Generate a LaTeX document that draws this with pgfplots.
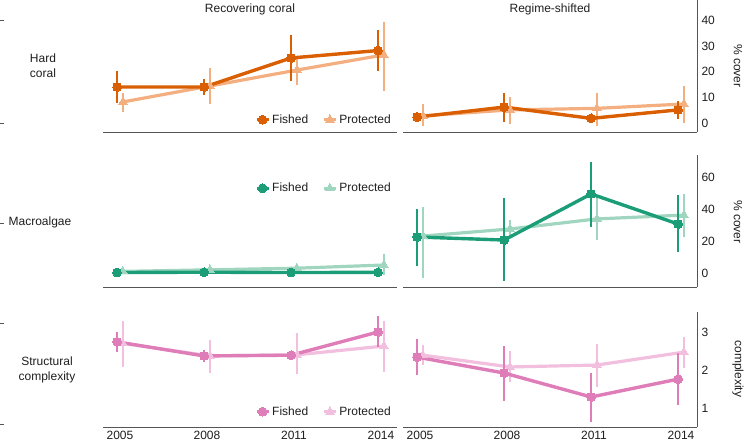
\documentclass[border=0pt]{standalone}
\usepackage{fontspec}
\setmainfont{Liberation Sans}
\usepackage{pgfplots}
\pgfplotsset{compat=1.18}
\usepackage{pgfplotstable}

\definecolor{corF}{RGB}{217,95,2}
\definecolor{corP}{RGB}{243,175,128}
\definecolor{algF}{RGB}{27,158,119}
\definecolor{algP}{RGB}{160,214,192}
\definecolor{cpxF}{RGB}{223,125,184}
\definecolor{cpxP}{RGB}{242,192,222}
\definecolor{axgray}{RGB}{85,85,85}
\definecolor{txt}{RGB}{30,30,30}

% columns: year, mean, upper, lower
\pgfplotstableread{
yr   y     hi    lo
2005 14.0  20.2  7.8
2008 14.0  17.1  10.9
2011 25.3  34.2  16.3
2014 28.2  36.2  20.2
}\coralRecF
\pgfplotstableread{
yr   y     hi    lo
2005 8.2   11.7  4.3
2008 14.4  21.4  7.4
2011 20.6  25.7  14.8
2014 26.5  39.3  12.5
}\coralRecP
\pgfplotstableread{
yr   y     hi    lo
2005 2.3   4.3   0.4
2008 6.2   11.7  0.5
2011 1.8   2.8   0.8
2014 5.1   8.7   1.4
}\coralRegF
\pgfplotstableread{
yr   y     hi    lo
2005 2.8   7.4   -1.2
2008 5.1   10.0  -0.4
2011 5.7   11.7  -1.0
2014 7.4   14.4  0.1
}\coralRegP
\pgfplotstableread{
yr   y     hi    lo
2005 0.3   1.2   -0.5
2008 0.5   1.4   -0.4
2011 0.3   1.2   -0.5
2014 0.4   1.3   -0.5
}\algRecF
\pgfplotstableread{
yr   y     hi    lo
2005 1.0   2.2   -0.2
2008 2.0   3.5   0.5
2011 3.0   5.0   1.0
2014 5.0   12.0  -1.0
}\algRecP
\pgfplotstableread{
yr   y     hi    lo
2005 22.5  40.0  4.4
2008 20.6  46.9  -5.0
2011 49.4  69.4  28.8
2014 30.6  48.8  13.0
}\algRegF
\pgfplotstableread{
yr   y     hi    lo
2005 23.1  41.2  -3.0
2008 27.5  33.0  22.0
2011 33.8  47.5  20.6
2014 36.2  49.4  22.5
}\algRegP
\pgfplotstableread{
yr   y     hi    lo
2005 2.74  3.00  2.47
2008 2.37  2.53  2.21
2011 2.39  2.50  2.26
2014 3.00  3.42  2.61
}\cpxRecF
\pgfplotstableread{
yr   y     hi    lo
2005 2.70  3.29  2.08
2008 2.37  2.79  1.92
2011 2.40  2.97  1.89
2014 2.63  3.29  1.95
}\cpxRecP
\pgfplotstableread{
yr   y     hi    lo
2005 2.34  2.82  1.87
2008 1.92  2.63  1.18
2011 1.29  1.92  0.63
2014 1.76  2.45  1.08
}\cpxRegF
\pgfplotstableread{
yr   y     hi    lo
2005 2.39  2.66  2.13
2008 2.08  2.50  1.68
2011 2.13  2.68  1.55
2014 2.47  2.87  2.05
}\cpxRegP

\newcommand{\fs}{\fontsize{12bp}{15bp}\selectfont}

\pgfplotsset{
  panel/.style={
    scale only axis, width=294bp, anchor=south west, clip=false,
    xmin=2004.414, xmax=2014.552,
    axis x line*=bottom,
    xtick={2005,2008,2011,2014}, xticklabels={},
    major tick length=0pt,
    axis line style={draw=axgray, line width=0.9bp},
    tick label style={font=\fs, text=txt},
    /pgf/number format/assume math mode=true,
    /pgf/number format/1000 sep={},
    yticklabel style={xshift=1bp},
  },
  leftp/.style={panel, axis y line=none, ytick=\empty},
  rightp/.style={panel, axis y line*=right},
  yearlabels/.style={xticklabels={2005,2008,2011,2014}, xticklabel style={yshift=-1bp}},
  legbox/.style={legend columns=2, legend cell align=left,
    legend style={draw=none, fill=none, font=\fs, text=txt, inner sep=1bp,
      /tikz/every even column/.append style={column sep=12bp}},
    legend image code/.code={\draw[mark repeat=2,mark phase=2]
      plot coordinates {(0bp,0bp)(6bp,0bp)(12bp,0bp)};}},
  fished/.style={color=#1, line width=3.4bp, mark=*, mark size=4.4bp,
    mark options={solid, line width=0pt},
    error bars/y dir=both, error bars/y explicit, error bars/error mark=none,
    error bars/error bar style={line width=1.9bp, color=#1}},
  protected/.style={color=#1, line width=3.2bp, mark=triangle*, mark size=5bp,
    mark options={solid, line width=0pt},
    error bars/y dir=both, error bars/y explicit, error bars/error mark=none,
    error bars/error bar style={line width=1.3bp, color=#1}},
  fleg/.style={color=#1, line width=3.4bp, mark=*, mark size=4.4bp, mark options={solid, line width=0pt}},
  pleg/.style={color=#1, line width=3.2bp, mark=triangle*, mark size=5bp, mark options={solid, line width=0pt}},
  table/fdata/.style={x expr=\thisrow{yr}-0.1, y=y,
    y error plus expr=\thisrow{hi}-\thisrow{y},
    y error minus expr=\thisrow{y}-\thisrow{lo}},
  table/pdata/.style={x expr=\thisrow{yr}+0.1, y=y,
    y error plus expr=\thisrow{hi}-\thisrow{y},
    y error minus expr=\thisrow{y}-\thisrow{lo}},
}

\begin{document}
\begin{tikzpicture}[x=1bp,y=1bp]
\path[use as bounding box] (0,0) rectangle (746,-443);

% ---- row 1: hard coral
\begin{axis}[leftp, at={(103bp,-132bp)}, height=132bp, ymin=-3.5, ymax=47.86,
  legbox, legend style={at={(rel axis cs:1,0)}, anchor=south east, xshift=-3bp, yshift=4bp}]
\addlegendimage{fleg=corF}
\addlegendimage{pleg=corP}
\addplot[forget plot, protected=corP] table[pdata] {\coralRecP};
\addplot[forget plot, fished=corF] table[fdata] {\coralRecF};
\legend{Fished,Protected}
\end{axis}
\begin{axis}[rightp, at={(403bp,-132bp)}, height=132bp, ymin=-3.5, ymax=47.86,
  ytick={0,10,20,30,40}]
\addplot[protected=corP] table[pdata] {\coralRegP};
\addplot[fished=corF] table[fdata] {\coralRegF};
\end{axis}

% ---- row 2: macroalgae
\begin{axis}[leftp, at={(103bp,-287bp)}, height=132bp, ymin=-8.75, ymax=73.75,
  legbox, legend style={at={(rel axis cs:1,1)}, anchor=north east, xshift=-3bp, yshift=-25bp}]
\addlegendimage{fleg=algF}
\addlegendimage{pleg=algP}
\addplot[forget plot, protected=algP] table[pdata] {\algRecP};
\addplot[forget plot, fished=algF] table[fdata] {\algRecF};
\legend{Fished,Protected}
\end{axis}
\begin{axis}[rightp, at={(403bp,-287bp)}, height=132bp, ymin=-8.75, ymax=73.75,
  ytick={0,20,40,60}]
\addplot[protected=algP] table[pdata] {\algRegP};
\addplot[fished=algF] table[fdata] {\algRegF};
\end{axis}

% ---- row 3: structural complexity
\begin{axis}[leftp, yearlabels, at={(103bp,-427bp)}, height=115bp, ymin=0.5, ymax=3.526,
  legbox, legend style={at={(rel axis cs:1,0)}, anchor=south east, xshift=-3bp, yshift=7bp}]
\addlegendimage{fleg=cpxF}
\addlegendimage{pleg=cpxP}
\addplot[forget plot, protected=cpxP] table[pdata] {\cpxRecP};
\addplot[forget plot, fished=cpxF] table[fdata] {\cpxRecF};
\legend{Fished,Protected}
\end{axis}
\begin{axis}[rightp, yearlabels, at={(403bp,-427bp)}, height=115bp, ymin=0.5, ymax=3.526,
  ytick={1,2,3}]
\addplot[protected=cpxP] table[pdata] {\cpxRegP};
\addplot[fished=cpxF] table[fdata] {\cpxRegF};
\end{axis}

% column titles, row labels, right-hand axis titles
\node[font=\fs, text=txt] at (250,-9) {Recovering coral};
\node[font=\fs, text=txt] at (550,-9) {Regime-shifted};
\node[font=\fs, text=txt, align=center] at (43,-66) {Hard\\coral};
\node[font=\fs, text=txt] at (40,-222) {Macroalgae};
\node[font=\fs, text=txt, align=center] at (47,-370) {Structural\\complexity};
\node[font=\fs, text=txt, rotate=-90] at (738,-66) {\% cover};
\node[font=\fs, text=txt, rotate=-90] at (738,-222) {\% cover};
\node[font=\fs, text=txt, rotate=-90] at (738,-369) {complexity};
\foreach \yy in {20,123,223,323,424}
  \draw[axgray, line width=0.6bp] (0,-\yy) -- (4,-\yy);
\end{tikzpicture}
\end{document}
